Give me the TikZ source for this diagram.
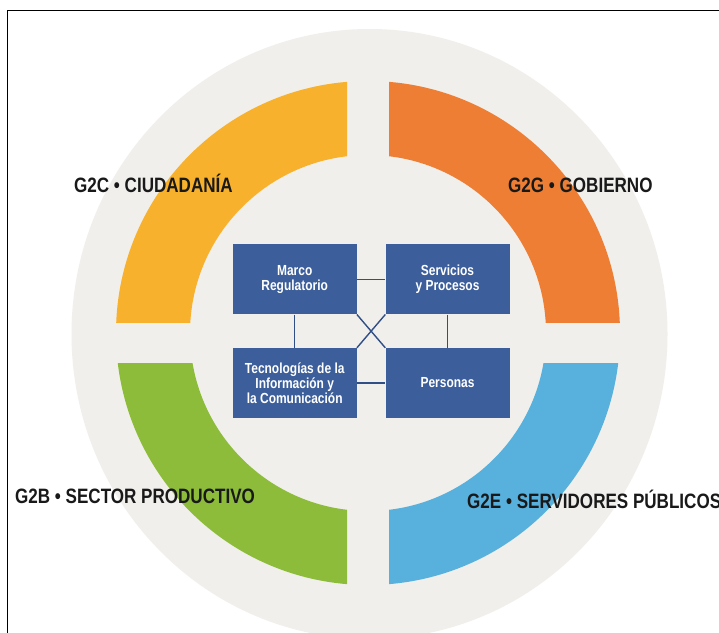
\documentclass[tikz,border=0pt]{standalone}
\usepackage{fontspec}
\setmainfont{Liberation Sans}[FakeStretch=0.82]
\definecolor{ringgray}{HTML}{F1EFEC}
\definecolor{qyellow}{HTML}{F8B12C}
\definecolor{qorange}{HTML}{EE7E33}
\definecolor{qgreen}{HTML}{8CBC3A}
\definecolor{qblue}{HTML}{57B1DC}
\definecolor{boxblue}{HTML}{3C5E9A}
\definecolor{linkblue}{HTML}{2F4F86}
\tikzset{
  pillar/.style={fill=boxblue, text=white, inner sep=0pt,
    minimum width=124pt, minimum height=70pt, align=center,
    font=\fontsize{14.6}{15.2}\selectfont\bfseries},
  link/.style={draw=linkblue, line width=1.4pt},
  sector/.style={anchor=base west, inner sep=0pt, text=black!90,
    font=\fontsize{20.8}{24}\selectfont\bfseries}
}
\begin{document}
\begin{tikzpicture}[x=1pt, y=-1pt]
  \clip (0,0) rectangle (719,632);
  \fill[white] (0,0) rectangle (719,632);
  % outer frame
  \draw[black, line width=1.6pt] (7.5,10.5) rectangle (740,660);
  % grey disc behind the ring
  \fill[ringgray] (369.5,334) ellipse [x radius=298pt, y radius=305pt];
  % four ring quadrants
  \coordinate (c) at (368,333);
  \begin{scope}
    \clip (0,0) rectangle (347,322);
    \fill[qyellow, even odd rule] (c) circle (252pt) (c) circle (178pt);
  \end{scope}
  \begin{scope}
    \clip (389,0) rectangle (719,322);
    \fill[qorange, even odd rule] (c) circle (252pt) (c) circle (178pt);
  \end{scope}
  \begin{scope}
    \clip (0,363) rectangle (347,632);
    \fill[qgreen, even odd rule] (c) circle (252pt) (c) circle (178pt);
  \end{scope}
  \begin{scope}
    \clip (389,363) rectangle (719,632);
    \fill[qblue, even odd rule] (c) circle (252pt) (c) circle (178pt);
  \end{scope}
  % central boxes
  \node[pillar] (marco) at (294.7,279.3) {Marco\\Regulatorio};
  \node[pillar] (servicios) at (447.5,279.3) {Servicios\\y Procesos};
  \node[pillar] (tic) at (294.7,383) {Tecnologías de la\\Información y\\la Comunicación};
  \node[pillar] (personas) at (447.5,383) {Personas};
  % links between boxes
  \draw[link] (marco.east) -- (servicios.west);
  \draw[link] (tic.east) -- (personas.west);
  \draw[link] (marco.south) -- (tic.north);
  \draw[link] (servicios.south) -- (personas.north);
  \draw[link] (marco.south east) -- (personas.north west);
  \draw[link] (servicios.south west) -- (tic.north east);
  % sector labels
  \node[sector] (g2c) at (74,192) {G2C • CIUDADANÍA};
  \node[sector] (g2g) at (508,192) {G2G • GOBIERNO};
  \node[sector] (g2b) at (15,503) {G2B • SECTOR PRODUCTIVO};
  \node[sector] (g2e) at (467,508) {G2E • SERVIDORES PÚBLICOS};
\end{tikzpicture}
\end{document}
